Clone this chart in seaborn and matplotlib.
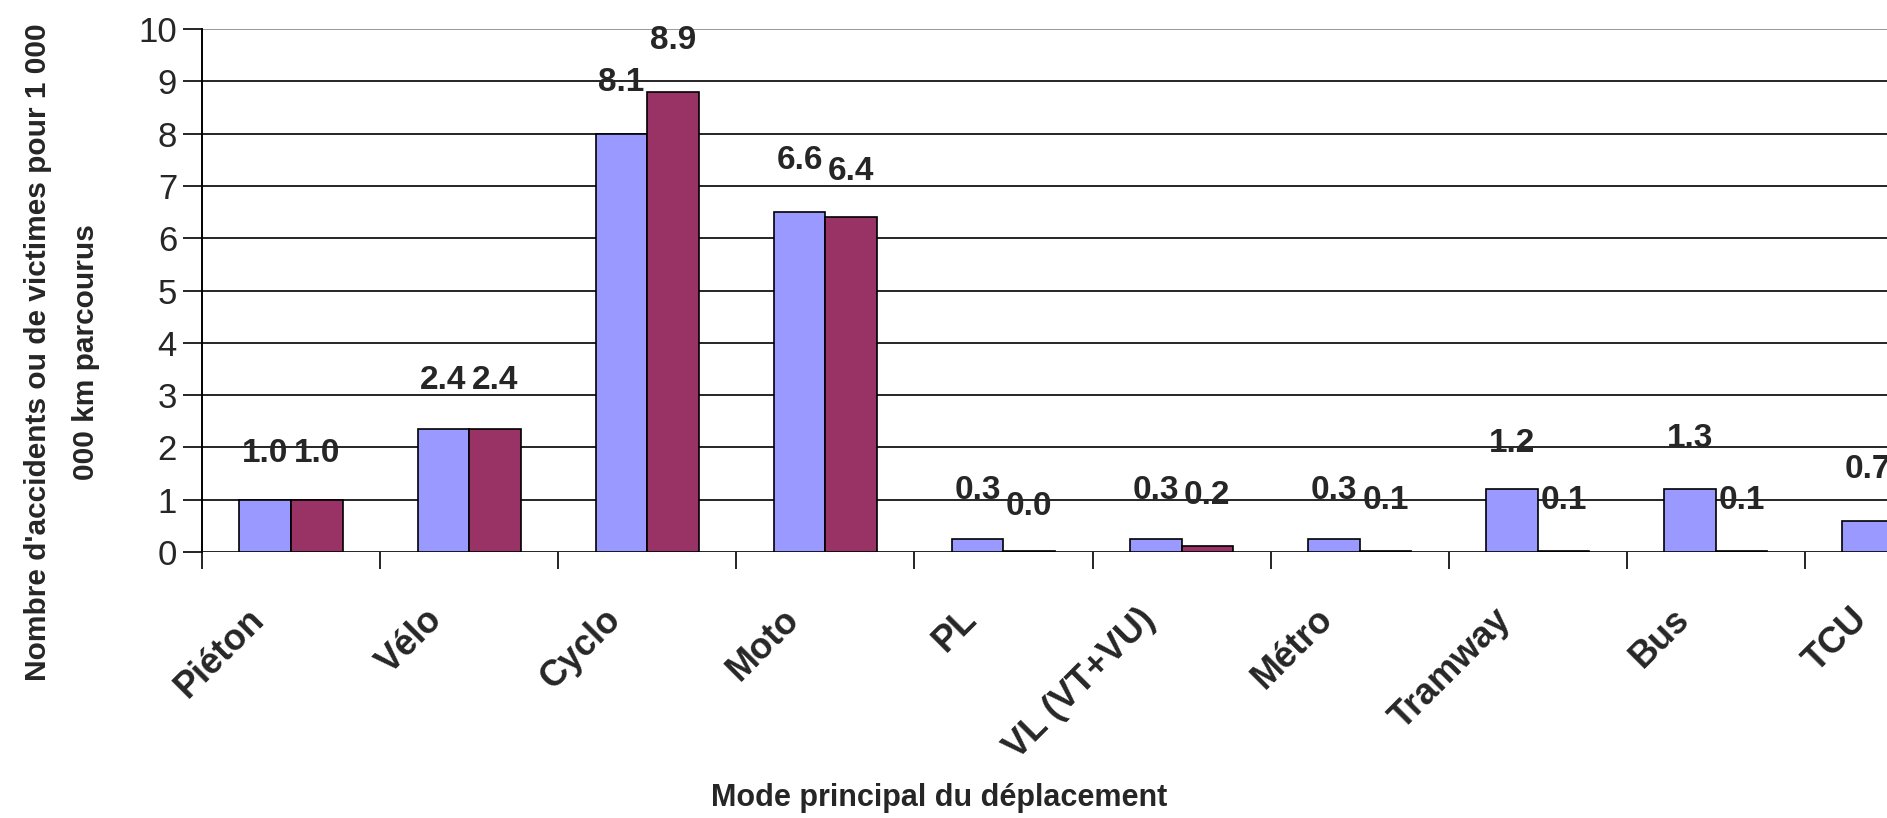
import matplotlib
matplotlib.use("Agg")
import matplotlib.pyplot as plt
import matplotlib.transforms as mtrans
import numpy as np
import pandas as pd
import seaborn as sns

# ---------------- data ----------------
categories = ["Piéton", "Vélo", "Cyclo", "Moto", "PL", "VL (VT+VU)",
              "Métro", "Tramway", "Bus", "TCU"]
series_names = ["Accidents", "Victimes"]
blue_values = [1.0, 2.35, 8.0, 6.5, 0.25, 0.25, 0.25, 1.2, 1.2, 0.6]
purple_values = [1.0, 2.35, 8.8, 6.4, 0.02, 0.12, 0.02, 0.02, 0.02, 0.05]
blue_labels = [1.0, 2.4, 8.1, 6.6, 0.3, 0.3, 0.3, 1.2, 1.3, 0.7]
purple_labels = [1.0, 2.4, 8.9, 6.4, 0.0, 0.2, 0.1, 0.1, 0.1, 0.1]
y_ticks = list(range(0, 11))
y_label = "Nombre d'accidents ou de victimes pour 1 000\n000 km parcourus"
x_label = "Mode principal du déplacement"
colors = ["#9999FF", "#993366"]

sns.set_style("white")
plt.rcParams["font.family"] = ["Liberation Sans", "DejaVu Sans"]

df = pd.DataFrame({
    "mode": categories * 2,
    "serie": [series_names[0]] * len(categories) + [series_names[1]] * len(categories),
    "valeur": blue_values + purple_values,
})

fig = plt.figure(figsize=(18.87, 8.18), dpi=100)
ax = fig.add_axes([202 / 1887, 1 - 552 / 818, 1 - 202 / 1887, (552 - 29) / 818])

sns.barplot(data=df, x="mode", y="valeur", hue="serie", order=categories,
            hue_order=series_names, palette=colors, width=0.58, gap=0,
            edgecolor="black", linewidth=1.2, saturation=1, legend=False,
            ax=ax, zorder=3)

ax.set_yticks(y_ticks)
ax.set_yticklabels([str(t) for t in y_ticks], fontsize=25)
for t in y_ticks[:-1]:
    ax.axhline(t, color="black", lw=1.2, zorder=1)
ax.axhline(10, color="#888888", lw=1.2, zorder=1)

for s in ["top", "right", "bottom"]:
    ax.spines[s].set_visible(False)
ax.spines["left"].set_color("black")
ax.spines["left"].set_linewidth(1.4)
ax.tick_params(axis="y", direction="out", length=14, width=1.2, color="black", pad=4, left=True)

# x ticks at category boundaries (minor); category names drawn as texts
ax.set_xticks(np.arange(-0.5, len(categories), 1.0), minor=True)
ax.tick_params(axis="x", which="minor", direction="out", length=12, width=1.2, color="black", bottom=True)
ax.set_xticks([])

# limits last (set_xticks expands the view)
ax.set_ylim(0, 10)
ax.set_xlim(-0.5, (1887 - 202) / 178.1 - 0.5)

ax.set_xlabel("")
ax.set_ylabel("")

tr = ax.get_xaxis_transform() + mtrans.ScaledTranslation(-32 / 100, -62 / 100, fig.dpi_scale_trans)
for i, name in enumerate(categories):
    ax.text(i, 0, name, transform=tr, rotation=45, ha="right", va="center",
            rotation_mode="anchor", fontsize=26, fontweight="bold", clip_on=False)

# data labels
for cont, labs in zip(ax.containers, [blue_labels, purple_labels]):
    for bar, v in zip(cont, labs):
        xc = bar.get_x() + bar.get_width() / 2
        ax.annotate(f"{v:.1f}", xy=(xc, v), xytext=(0, 33), textcoords="offset points",
                    ha="center", va="center", fontsize=24, fontweight="bold",
                    zorder=5)

fig.text(939 / 1887, 1 - 798 / 818, x_label, ha="center", va="center",
         fontsize=22, fontweight="bold")
fig.text(62 / 1887, 1 - 352 / 818, y_label, ha="center", va="center", rotation=90,
         fontsize=21.5, fontweight="bold", multialignment="center", linespacing=1.95)

fig.savefig("out.png", dpi=100)
